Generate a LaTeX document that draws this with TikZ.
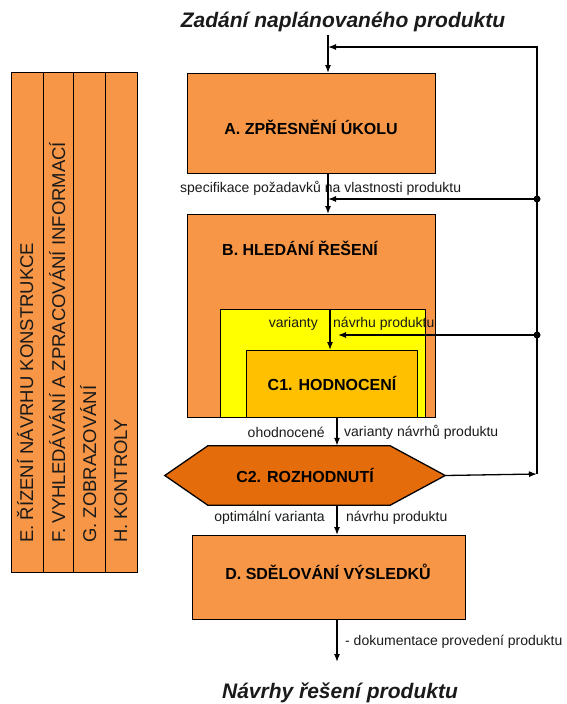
\documentclass[tikz,border=0pt]{standalone}
\usepackage{fontspec}
\setmainfont{Liberation Sans}
\usetikzlibrary{arrows.meta,backgrounds}
\definecolor{lorange}{HTML}{F79646}
\definecolor{dorange}{HTML}{E46C0A}
\definecolor{gold}{HTML}{FFC000}
\definecolor{yel}{HTML}{FFFF00}
\definecolor{txt}{HTML}{1A1A1A}

\begin{document}
\begin{tikzpicture}[x=1pt,y=-1pt,
  panel/.style={draw=black, line width=1.3pt, inner sep=0pt, anchor=north west},
  phase/.style={font=\fontsize{16}{18}\selectfont\bfseries, text=black, inner sep=0pt},
  note/.style={font=\fontsize{14}{16}\selectfont, text=txt, inner sep=0pt},
  heading/.style={font=\fontsize{21}{24}\selectfont\bfseries\itshape, text=txt, inner sep=0pt},
  lane/.style={font=\fontsize{18.5}{20}\selectfont, text=txt, inner sep=0pt, rotate=90, anchor=base west},
  flow/.style={line width=1.3pt, -{Latex[length=8pt,width=6pt]}},
  wire/.style={line width=1.3pt},
  dot/.style={circle, fill=black, inner sep=0pt, minimum size=7pt}
]
\useasboundingbox (0,0) rectangle (567,704);

% side columns of supporting activities
\node[panel, fill=lorange, minimum width=32, minimum height=500] (colE) at (11,72) {};
\node[panel, fill=lorange, minimum width=30, minimum height=500] (colF) at (43,72) {};
\node[panel, fill=lorange, minimum width=32, minimum height=500] (colG) at (73,72) {};
\node[panel, fill=lorange, minimum width=32, minimum height=500] (colH) at (105,72) {};
\node[lane] (tE) at (33,543) {E. ŘÍZENÍ NÁVRHU KONSTRUKCE};
\node[lane] (tF) at (65,543) {F. VYHLEDÁVÁNÍ A ZPRACOVÁNÍ INFORMACÍ};
\node[lane] (tG) at (96,543) {G. ZOBRAZOVÁNÍ};
\node[lane] (tH) at (127,543) {H. KONTROLY};

% headings
\node[heading] (top) at (343,22) {Zadání naplánovaného produktu};
\node[heading] (bottom) at (340,693) {Návrhy řešení produktu};

% main process boxes
\node[panel, fill=lorange, minimum width=248, minimum height=100] (A) at (187,73) {};
\node[phase] (tA) at (311,127) {A. ZPŘESNĚNÍ ÚKOLU};

\node[panel, fill=lorange, minimum width=248, minimum height=203] (B) at (187,214) {};
\node[phase] (tB) at (300,248) {B. HLEDÁNÍ ŘEŠENÍ};

\node[panel, fill=yel, minimum width=205, minimum height=108] (Y) at (220,309) {};
\node[panel, fill=gold, minimum width=171, minimum height=67] (C1) at (246,350) {};
\node[phase] (tC1) at (332,383) {C1. HODNOCENÍ};

% decision hexagon
\node[phase, minimum width=280, minimum height=59] (C2) at (305,475.5) {C2. ROZHODNUTÍ};
\begin{scope}[on background layer]
  \draw[wire, fill=dorange, line join=miter]
    (C2.west) -- ([xshift=43pt]C2.north west) -- ([xshift=-55pt]C2.north east)
    -- (C2.east) -- ([xshift=-55pt]C2.south east) -- ([xshift=43pt]C2.south west) -- cycle;
\end{scope}

\node[panel, fill=lorange, minimum width=273, minimum height=84] (D) at (192,535) {};
\node[phase] (tD) at (328,572) {D. SDĚLOVÁNÍ VÝSLEDKŮ};

% helper coordinates
\coordinate (inA) at (328,35);
\coordinate (axB) at (337,0);
\coordinate (axC) at (330,0);
\coordinate (fbR) at (537,474);
\coordinate (fbT) at (537,47);
\coordinate (j1) at (537,199);
\coordinate (j2) at (537,335);
\coordinate (in2) at (338,335);
\coordinate (out) at (337,662);

% labels on the flow
\node[note, anchor=west] (l1) at (180,188) {specifikace požadavků na vlastnosti produktu};
\node[note, anchor=east] (l2) at (318,324) {varianty};
\node[note, anchor=west] (l3) at (333,324) {návrhu produktu};
\node[note, anchor=east] (l4) at (325,432) {ohodnocené};
\node[note, anchor=west] (l5) at (344,432) {varianty návrhů produktu};
\node[note, anchor=east] (l6) at (325,518) {optimální varianta};
\node[note, anchor=west] (l7) at (346,518) {návrhu produktu};
\node[note, anchor=west] (l8) at (345,642) {- dokumentace provedení produktu};

% main flow
\draw[flow] (inA) -- (A.north -| inA);
\draw[flow] (A.south -| inA) -- (B.north -| inA);
\draw[flow] (Y.north -| axC) -- (C1.north -| axC);
\draw[flow] (B.south -| axB) -- (C2.north -| axB);
\draw[flow] (C2.south -| axB) -- (D.north -| axB);
\draw[flow] (D.south -| axB) -- (out);

% feedback loop
\draw[flow] (C2.east) -- (fbR);
\draw[flow] (fbR) -- (fbT) -- (fbT -| inA);
\draw[flow] (j1) -- (j1 -| inA);
\draw[flow] (j2) -- (in2);
\node[dot] (d1) at (j1) {};
\node[dot] (d2) at (j2) {};
\end{tikzpicture}
\end{document}
